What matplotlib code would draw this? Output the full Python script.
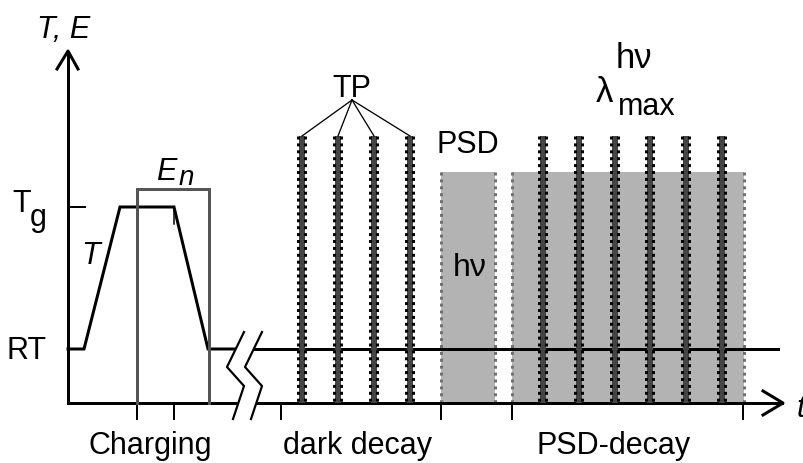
import matplotlib
matplotlib.use("Agg")
from matplotlib import pyplot as plt

plt.rcParams["font.family"] = ["Liberation Sans", "DejaVu Sans"]

# levels on the T axis (screen units, y grows downward)
RT = 350
TG = 208
AXIS_Y = 404
AXIS_X = 68

# temperature programme during charging
t_time = [68, 84, 120, 174, 208, 236]
t_level = [RT, RT, TG, TG, RT, RT]

# charging field box
en_left, en_right, en_top = 137, 209, 190

# thermal pulses (TP) in dark decay and in PSD decay
tp_dark = [302, 338, 374, 410]
tp_psd = [543, 579, 615, 650, 686, 722]
tp_top = 137

# photo-stimulated discharge windows
psd_windows = [(441, 495), (512, 744)]
psd_top = 173

# ticks under the time axis
tick_x = [137, 174, 281, 441, 512, 743]

stage_names = ["Charging", "dark decay", "PSD-decay"]
stage_x = [150, 358, 614]

# axis break
break_x = [244, 227, 244, 233]
break_y = [333, 368, 387, 420]
break_gap = 18

fig = plt.figure(figsize=(8.04, 4.64), dpi=100)
ax = fig.add_axes([0, 0, 1, 1])
ax.set_xlim(0, 804)
ax.set_ylim(464, 0)
ax.axis("off")

PX = 0.72  # one pixel in points
FS = 22

# PSD windows with dotted gray edges
for x0, x1 in psd_windows:
    ax.fill_between([x0, x1], psd_top, AXIS_Y, color="#b3b3b3", lw=0, zorder=1)
    for xe in (x0, x1):
        ax.plot([xe, xe], [psd_top, AXIS_Y], color="#707070", lw=3 * PX,
                dashes=(1, 1.3), zorder=2)

# axes
ax.plot([AXIS_X, AXIS_X], [AXIS_Y, 53], color="black", lw=3 * PX, zorder=3)
ax.plot([57, AXIS_X, 78], [70, 52, 70], color="black", lw=3 * PX, zorder=3)
ax.plot([AXIS_X, 782], [AXIS_Y, AXIS_Y], color="black", lw=3 * PX, zorder=3)
ax.plot([763, 783, 763], [392, AXIS_Y, 416], color="black", lw=3 * PX, zorder=3)

# ticks
ax.plot([AXIS_X, 85], [TG, TG], color="black", lw=2 * PX, zorder=3)
for xt in tick_x:
    ax.plot([xt, xt], [AXIS_Y, 420], color="black", lw=2 * PX, zorder=3)

# temperature profile and room temperature after charging
ax.plot(t_time, t_level, color="black", lw=3 * PX, zorder=4,
        solid_joinstyle="miter")
ax.plot([174, 174], [TG, 225], color="black", lw=1.5 * PX, zorder=4)
ax.plot([t_time[-1], 778], [RT, RT], color="black", lw=3 * PX, zorder=3)

# charging field
ax.plot([en_left, en_left, en_right, en_right], [AXIS_Y, en_top, en_top, AXIS_Y],
        color="#555555", lw=3 * PX, zorder=5, solid_joinstyle="miter")

# thermal pulses
for xb in tp_dark + tp_psd:
    ax.plot([xb, xb], [tp_top, AXIS_Y], color="#444444", lw=6 * PX, zorder=6,
            solid_capstyle="butt")
    for dx in (-3.5, 3.5):
        ax.plot([xb + dx, xb + dx], [tp_top, AXIS_Y], color="black",
                lw=3 * PX, dashes=(1, 1.3), zorder=7)

# TP fan
for xb in tp_dark:
    ax.plot([352, xb], [101, tp_top], color="black", lw=1.3 * PX, zorder=7)

# axis break
bx2 = [x + break_gap for x in break_x]
ax.fill(break_x + bx2[::-1], break_y + break_y[::-1], color="white", zorder=8)
ax.plot(break_x, break_y, color="black", lw=2.2 * PX, zorder=9)
ax.plot(bx2, break_y, color="black", lw=2.2 * PX, zorder=9)

# labels
ax.text(64, 30, "T, E", fontsize=FS, style="italic", ha="center", va="center")
ax.text(797, 409, "t", fontsize=FS, style="italic", ha="left", va="center")
ax.text(27, 351, "RT", fontsize=FS, ha="center", va="center")
ax.text(22, 204, "T", fontsize=FS, ha="center", va="center")
ax.text(38, 218, "g", fontsize=FS, ha="center", va="center")
ax.text(91, 256, "T", fontsize=FS, style="italic", ha="center", va="center")
ax.text(166, 172, "E", fontsize=FS, style="italic", ha="center", va="center")
ax.text(186, 178, "n", fontsize=FS - 2, style="italic", ha="center", va="center")
ax.text(352, 89, "TP", fontsize=FS, ha="center", va="center")
ax.text(468, 145, "PSD", fontsize=FS, ha="center", va="center")
ax.text(470, 268, "h\u03bd", fontsize=FS + 1, ha="center", va="center")
ax.text(634, 58, "h\u03bd", fontsize=FS + 3, ha="center", va="center")
ax.text(604, 92, "\u03bb", fontsize=FS + 3, ha="center", va="center")
ax.text(647, 107, "max", fontsize=FS, ha="center", va="center")
for name, xs in zip(stage_names, stage_x):
    ax.text(xs, 446, name, fontsize=FS, ha="center", va="center")

fig.savefig("out.png", dpi=100)
